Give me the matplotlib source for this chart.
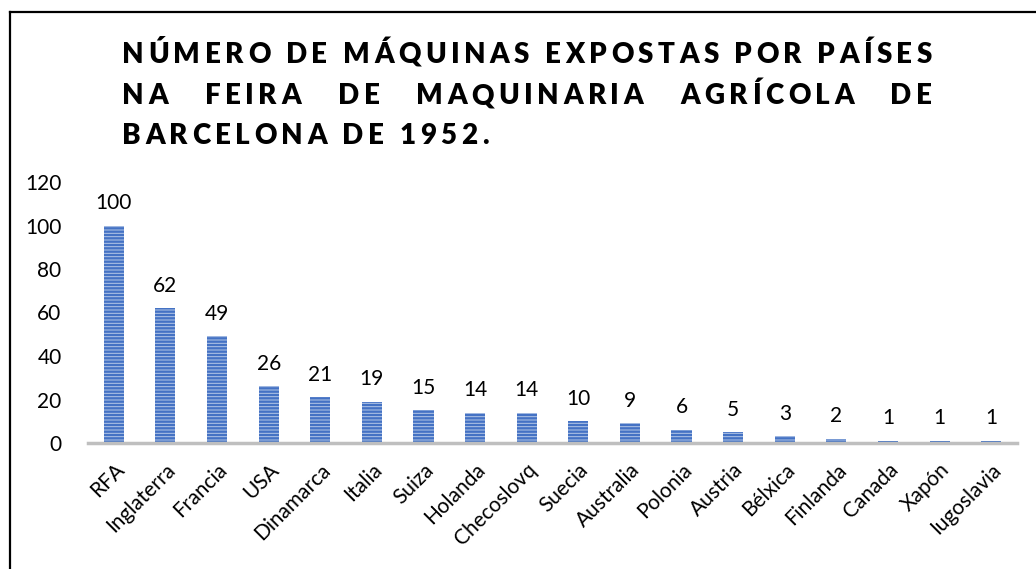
import matplotlib
matplotlib.use('Agg')
import matplotlib.pyplot as plt
from matplotlib.font_manager import FontProperties
from matplotlib.lines import Line2D

plt.rcParams['font.family'] = ['Lato', 'DejaVu Sans']
plt.rcParams['hatch.linewidth'] = 1.7

countries = ['RFA', 'Inglaterra', 'Francia', 'USA', 'Dinamarca', 'Italia', 'Suiza',
             'Holanda', 'Checoslovq', 'Suecia', 'Australia', 'Polonia', 'Austria',
             'Bélxica', 'Finlanda', 'Canada', 'Xapón', 'Iugoslavia']
machines = [100, 62, 49, 26, 21, 19, 15, 14, 14, 10, 9, 6, 5, 3, 2, 1, 1, 1]

title_lines = ['NÚMERO DE MÁQUINAS EXPOSTAS POR PAÍSES',
               'NA FEIRA DE MAQUINARIA AGRÍCOLA DE',
               'BARCELONA DE 1952.']

W, H = 1036, 569
fig = plt.figure(figsize=(W / 100, H / 100), dpi=100)
ax = fig.add_axes([88 / W, 1 - 443 / H, (1017 - 88) / W, (443 - 182) / H])

x = range(len(countries))
ax.bar(x, machines, width=0.39, color='#b4c7e7', edgecolor='#4472c4',
       linewidth=0, hatch='-----')
for i, v in enumerate(machines):
    ax.annotate(str(v), (i, v), xytext=(0, 9), textcoords='offset points',
                ha='center', va='bottom', fontsize=15)

ax.set_xlim(-0.5, len(countries) - 0.5)
ax.set_ylim(0, 120)
ax.set_yticks(range(0, 121, 20))
ax.set_xticks(list(x))
ax.set_xticklabels(countries, rotation=45, ha='right', rotation_mode='anchor')
ax.tick_params(axis='both', length=0, labelsize=15)
ax.tick_params(axis='y', pad=19)
ax.tick_params(axis='x', pad=12)
for s in ['top', 'right', 'left']:
    ax.spines[s].set_visible(False)
ax.spines['bottom'].set_color('#bfbfbf')
ax.spines['bottom'].set_linewidth(2.5)

# border of the chart box
fig.add_artist(Line2D([10 / W, 10 / W], [0, 1 - 12 / H], color='black', lw=1.6))
fig.add_artist(Line2D([10 / W, 1], [1 - 12 / H, 1 - 12 / H], color='black', lw=1.6))

# title with letter spacing, justified like the original
fp = FontProperties(family=['Lato', 'DejaVu Sans'], weight='heavy', size=20)
renderer = fig.canvas.get_renderer()


def cw(ch):
    return renderer.get_text_width_height_descent(ch, fp, ismath=False)[0]


x0, x1 = 122, 932
n1 = title_lines[0]
natural = sum(cw(c) for c in n1)
track = (x1 - x0 - natural) / (len(n1) - 1)


def draw_line(s, y, justify):
    words = s.split(' ')
    widths = [sum(cw(c) for c in w) + track * (len(w) - 1) for w in words]
    if justify and len(words) > 1:
        gap = (x1 - x0 - sum(widths)) / (len(words) - 1)
    else:
        gap = cw(' ') + 2 * track
    xp = x0
    for w, ww in zip(words, widths):
        xc = xp
        for c in w:
            fig.text(xc / W, 1 - y / H, c, fontproperties=fp, ha='left',
                     va='baseline', color='black')
            xc += cw(c) + track
        xp += ww + gap


draw_line(title_lines[0], 63, True)
draw_line(title_lines[1], 104, True)
draw_line(title_lines[2], 144, False)

fig.savefig('out.png', dpi=100, facecolor='white')
